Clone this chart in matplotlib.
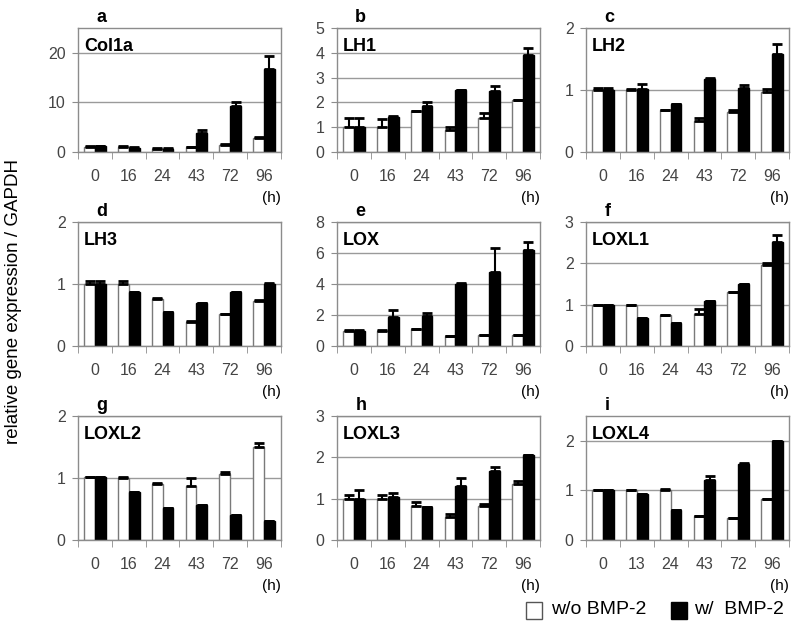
import matplotlib.pyplot as plt
import numpy as np

plt.rcParams['font.family'] = ['Liberation Sans', 'DejaVu Sans']

# panel info
letters = ['a', 'b', 'c', 'd', 'e', 'f', 'g', 'h', 'i']
genes = ['Col1a', 'LH1', 'LH2', 'LH3', 'LOX', 'LOXL1', 'LOXL2', 'LOXL3', 'LOXL4']
time_labels = ['0', '16', '24', '43', '72', '96']
time_labels_i = ['0', '13', '24', '43', '72', '96']
ymax = [25, 5, 2, 2, 8, 3, 2, 3, 2.5]
yticks = [[0, 10, 20], [0, 1, 2, 3, 4, 5], [0, 1, 2], [0, 1, 2], [0, 2, 4, 6, 8],
          [0, 1, 2, 3], [0, 1, 2], [0, 1, 2, 3], [0, 1, 2]]

# values: w/o BMP-2 (white) and w/ BMP-2 (black), with upper error
col1a_wo = [1.1, 1.1, 0.7, 1.0, 1.5, 2.8]
col1a_wo_err = [0.05, 0.05, 0.05, 0.1, 0.05, 0.2]
col1a_w = [1.2, 0.9, 0.7, 3.8, 9.2, 16.8]
col1a_w_err = [0.05, 0.05, 0.05, 0.6, 0.8, 2.6]

lh1_wo = [1.0, 1.0, 1.65, 0.9, 1.38, 2.08]
lh1_wo_err = [0.37, 0.35, 0.0, 0.1, 0.18, 0.0]
lh1_w = [1.0, 1.42, 1.85, 2.5, 2.45, 3.9]
lh1_w_err = [0.37, 0.04, 0.15, 0.02, 0.23, 0.3]

lh2_wo = [1.0, 1.0, 0.68, 0.5, 0.65, 0.97]
lh2_wo_err = [0.03, 0.02, 0.0, 0.05, 0.02, 0.05]
lh2_w = [1.0, 1.02, 0.77, 1.17, 1.04, 1.58]
lh2_w_err = [0.03, 0.07, 0.01, 0.02, 0.04, 0.16]

lh3_wo = [1.0, 1.0, 0.76, 0.38, 0.52, 0.73]
lh3_wo_err = [0.05, 0.05, 0.02, 0.02, 0.0, 0.02]
lh3_w = [1.0, 0.87, 0.55, 0.7, 0.87, 1.0]
lh3_w_err = [0.05, 0.0, 0.0, 0.0, 0.0, 0.02]

lox_wo = [1.0, 1.0, 1.1, 0.65, 0.7, 0.7]
lox_wo_err = [0.02, 0.02, 0.0, 0.0, 0.0, 0.0]
lox_w = [1.0, 1.9, 1.95, 4.0, 4.75, 6.2]
lox_w_err = [0.02, 0.42, 0.15, 0.05, 1.55, 0.5]

loxl1_wo = [1.0, 1.0, 0.75, 0.77, 1.3, 1.95]
loxl1_wo_err = [0.0, 0.0, 0.01, 0.12, 0.0, 0.05]
loxl1_w = [1.0, 0.67, 0.55, 1.08, 1.5, 2.52]
loxl1_w_err = [0.0, 0.0, 0.0, 0.0, 0.0, 0.16]

loxl2_wo = [1.02, 1.0, 0.9, 0.87, 1.07, 1.5]
loxl2_wo_err = [0.0, 0.02, 0.02, 0.13, 0.02, 0.06]
loxl2_w = [1.02, 0.78, 0.52, 0.56, 0.4, 0.3]
loxl2_w_err = [0.0, 0.0, 0.0, 0.0, 0.0, 0.0]

loxl3_wo = [1.0, 1.0, 0.82, 0.55, 0.82, 1.35]
loxl3_wo_err = [0.1, 0.1, 0.11, 0.07, 0.05, 0.07]
loxl3_w = [1.0, 1.03, 0.8, 1.3, 1.68, 2.06]
loxl3_w_err = [0.22, 0.11, 0.0, 0.2, 0.09, 0.0]

loxl4_wo = [1.0, 1.0, 1.0, 0.48, 0.45, 0.82]
loxl4_wo_err = [0.0, 0.0, 0.02, 0.0, 0.0, 0.0]
loxl4_w = [1.0, 0.92, 0.6, 1.2, 1.53, 2.0]
loxl4_w_err = [0.0, 0.0, 0.0, 0.1, 0.02, 0.0]

wo_vals = [col1a_wo, lh1_wo, lh2_wo, lh3_wo, lox_wo, loxl1_wo, loxl2_wo, loxl3_wo, loxl4_wo]
wo_errs = [col1a_wo_err, lh1_wo_err, lh2_wo_err, lh3_wo_err, lox_wo_err, loxl1_wo_err,
           loxl2_wo_err, loxl3_wo_err, loxl4_wo_err]
w_vals = [col1a_w, lh1_w, lh2_w, lh3_w, lox_w, loxl1_w, loxl2_w, loxl3_w, loxl4_w]
w_errs = [col1a_w_err, lh1_w_err, lh2_w_err, lh3_w_err, lox_w_err, loxl1_w_err,
          loxl2_w_err, loxl3_w_err, loxl4_w_err]

W, H = 800, 628
fig = plt.figure(figsize=(W / 100, H / 100), dpi=100)

lefts = [78, 337, 586]
tops = [28, 222, 416]
aw, ah = 203, 124
bw = 0.32
x = np.arange(6)

for k in range(9):
    r, c = divmod(k, 3)
    ax = fig.add_axes([lefts[c] / W, 1 - (tops[r] + ah) / H, aw / W, ah / H])
    ax.set_xlim(-0.5, 5.5)
    ax.set_ylim(0, ymax[k])
    ax.set_yticks(yticks[k])
    ax.yaxis.grid(True, color='#9a9a9a', lw=1)
    ax.set_axisbelow(True)
    for s in ax.spines.values():
        s.set_color('#8c8c8c')
        s.set_linewidth(1)

    ax.bar(x - bw / 2, wo_vals[k], bw, color='white', edgecolor='#7a7a7a', lw=1, zorder=2)
    ax.bar(x + bw / 2, w_vals[k], bw, color='black', edgecolor='black', lw=1, zorder=2)
    ax.errorbar(x - bw / 2, wo_vals[k], yerr=[np.zeros(6), wo_errs[k]], fmt='none',
                ecolor='black', elinewidth=1.5, capsize=3.5, capthick=2, zorder=3)
    ax.errorbar(x + bw / 2, w_vals[k], yerr=[np.zeros(6), w_errs[k]], fmt='none',
                ecolor='black', elinewidth=1.5, capsize=3.5, capthick=2, zorder=3)

    labels = time_labels_i if k == 8 else time_labels
    ax.set_xticks(x)
    ax.set_xticklabels(labels, fontsize=11.5, color='#444444')
    ax.set_xticks(np.arange(-0.5, 6, 1), minor=True)
    ax.tick_params(axis='x', which='major', length=0, pad=12)
    ax.tick_params(axis='x', which='minor', length=5, color='#8c8c8c', direction='out')
    ax.tick_params(axis='y', length=4, color='#8c8c8c', labelsize=11.5,
                   labelcolor='#444444', pad=5)

    ax.text(0.03, 0.92, genes[k], transform=ax.transAxes, fontsize=13,
            fontweight='bold', va='top', ha='left')
    ax.text(0.09, 1.02, letters[k], transform=ax.transAxes, fontsize=13,
            fontweight='bold', va='bottom', ha='left')
    ax.text(1.0, -0.37, '(h)', transform=ax.transAxes, fontsize=11,
            va='center', ha='right')

fig.text(14 / W, 1 - 302 / H, 'relative gene expression / GAPDH', rotation=90,
         fontsize=13.5, va='center', ha='center')

# legend
fig.patches.append(plt.Rectangle((526 / W, 1 - 619 / H), 16 / W, 17 / H,
                                 transform=fig.transFigure, facecolor='white',
                                 edgecolor='#555555', lw=1))
fig.text(551 / W, 1 - 610 / H, 'w/o BMP-2', fontsize=14, va='center', ha='left')
fig.patches.append(plt.Rectangle((671 / W, 1 - 619 / H), 16 / W, 17 / H,
                                 transform=fig.transFigure, facecolor='black',
                                 edgecolor='black', lw=1))
fig.text(694 / W, 1 - 610 / H, 'w/  BMP-2', fontsize=14, va='center', ha='left')

fig.savefig('out.png', dpi=100)
